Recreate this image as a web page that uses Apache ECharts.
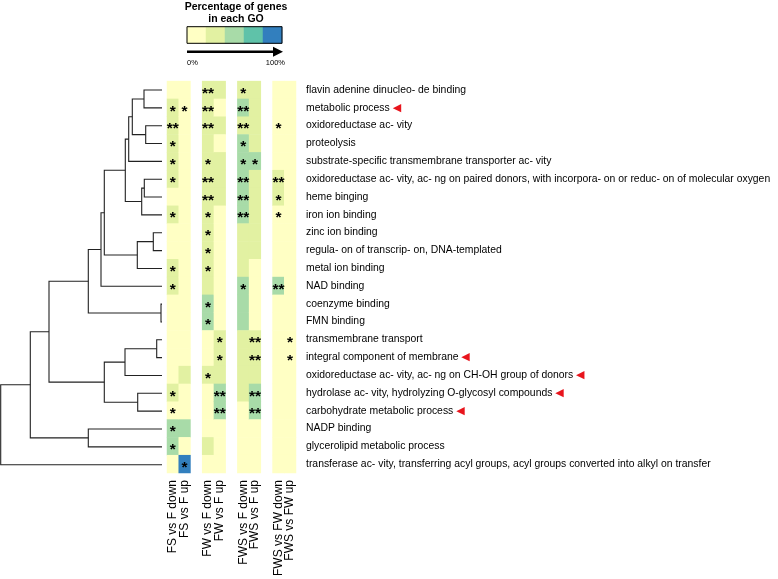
<!DOCTYPE html>
<html>
<head>
<meta charset="utf-8">
<script src="https://cdn.jsdelivr.net/npm/echarts@6/dist/echarts.min.js"></script>
<style>html,body{margin:0;padding:0;background:#fff}#c{width:778px;height:579px}</style>
</head>
<body>
<div id="c"></div>
<script>
// ---------- data ----------
const goTerms = [
  'flavin adenine dinucleo- de binding',
  'metabolic process',
  'oxidoreductase ac- vity',
  'proteolysis',
  'substrate-specific transmembrane transporter ac- vity',
  'oxidoreductase ac- vity, ac- ng on paired donors, with incorpora- on or reduc- on of molecular oxygen',
  'heme binging',
  'iron ion binding',
  'zinc ion binding',
  'regula- on of transcrip- on, DNA-templated',
  'metal ion binding',
  'NAD binding',
  'coenzyme binding',
  'FMN binding',
  'transmembrane transport',
  'integral component of membrane',
  'oxidoreductase ac- vity, ac- ng on CH-OH group of donors',
  'hydrolase ac- vity, hydrolyzing O-glycosyl compounds',
  'carbohydrate metabolic process',
  'NADP binding',
  'glycerolipid metabolic process',
  'transferase ac- vity, transferring acyl groups, acyl groups converted into alkyl on transfer'
];
const flaggedRows = [1, 15, 16, 17, 18];   // rows marked with a red triangle (0-based)

const comparisons = ['FS vs F down', 'FS vs F up', '', 'FW vs F down', 'FW vs F up', '',
                     'FWS vs F down', 'FWS vs F up', '', 'FWS vs FW down', 'FWS vs FW up'];

// percentage class (0..4) per comparison, per GO term
const fsDown   = [0,1,1,1,1,1,0,1,0,0,1,1,0,0,0,0,0,1,0,2,2,0];
const fsUp     = [0,0,0,0,0,0,0,0,0,0,0,0,0,0,0,0,1,0,0,2,0,4];
const fwDown   = [1,1,1,1,1,1,1,1,1,1,1,1,2,2,0,0,1,0,0,0,1,0];
const fwUp     = [1,0,1,0,1,1,1,0,0,0,0,0,0,0,1,1,1,2,2,0,0,0];
const fwsDown  = [1,2,1,2,2,2,2,2,1,1,1,2,2,2,1,1,1,1,0,0,0,0];
const fwsUp    = [1,1,1,1,2,1,1,1,1,1,0,0,0,0,1,1,1,2,2,0,0,0];
const fwsFwDown= [0,0,0,0,0,1,1,0,0,0,0,2,0,0,0,0,0,0,0,0,0,0];
const fwsFwUp  = [0,0,0,0,0,0,0,0,0,0,0,0,0,0,0,0,0,0,0,0,0,0];

// significance marks
const fsDownSig    = ['','*','**','*','*','*','','*','','','*','*','','','','','','*','*','*','*',''];
const fsUpSig      = ['','*','','','','','','','','','','','','','','','','','','','','*'];
const fwDownSig    = ['**','**','**','','*','**','**','*','*','*','*','','*','*','','','*','','','','',''];
const fwUpSig      = ['','','','','','','','','','','','','','','*','*','','**','**','','',''];
const fwsDownSig   = ['*','**','**','*','*','**','**','**','','','','*','','','','','','','','','',''];
const fwsUpSig     = ['','','','','*','','','','','','','','','','**','**','','**','**','','',''];
const fwsFwDownSig = ['','','*','','','**','*','*','','','','**','','','','','','','','','',''];
const fwsFwUpSig   = ['','','','','','','','','','','','','','','*','*','','','','','',''];

const legendClasses = [0,1,2,3,4];
const palette = ['#FFFFC4', '#E2F1A2', '#A8DBA8', '#5FC2A9', '#327FBE'];

// dendrogram merges (hclust style: negative = leaf, positive = earlier merge), height
const merges = [
  [-1,-2,18], [-3,-4,16.3], [1,2,29.7], [3,-5,33.3], [-6,-7,17.7], [5,-8,20.3],
  [4,6,36.7], [-9,-10,8.7], [8,-11,24.7], [7,9,57.7], [10,-12,61], [-13,-14,1],
  [11,12,73.7], [-15,-16,5.3], [14,-17,37], [-18,-19,24.3], [15,16,57.7],
  [13,17,113], [-20,-21,73.7], [18,19,131.7], [20,-22,161.3]
];

// ---------- build ----------
const columns = [
  [0, fsDown, fsDownSig], [1, fsUp, fsUpSig],
  [3, fwDown, fwDownSig], [4, fwUp, fwUpSig],
  [6, fwsDown, fwsDownSig], [7, fwsUp, fwsUpSig],
  [9, fwsFwDown, fwsFwDownSig], [10, fwsFwUp, fwsFwUpSig]
];
const heatData = [];
columns.forEach(([xi, lv, sg]) => {
  lv.forEach((v, r) => {
    heatData.push({ value: [xi, r, v, sg[r]], itemStyle: { color: palette[v] } });
  });
});

const nodeY = [], nodeH = [];
const segs = [];
function pos(id) {
  if (id < 0) return [0, -id - 1];
  return [nodeH[id - 1], nodeY[id - 1]];
}
merges.forEach(([a, b, h]) => {
  const pa = pos(a), pb = pos(b);
  segs.push({ coords: [[pa[0], pa[1]], [h, pa[1]], [h, pb[1]], [pb[0], pb[1]]] });
  nodeH.push(h);
  nodeY.push((pa[1] + pb[1]) / 2);
});

const legendData = legendClasses.map(v => ({ value: [v, 0, v], itemStyle: { color: palette[v] } }));

const TOP = 81.1, H = 392.5;
const chart = echarts.init(document.getElementById('c'), null, { renderer: 'canvas' });
chart.setOption({
  animation: false,
  backgroundColor: '#fff',
  textStyle: { fontFamily: 'Liberation Sans, Arial, sans-serif' },
  grid: [
    { left: 167, top: TOP, width: 129, height: H },
    { left: 0.7, top: TOP, width: 161.3, height: H },
    { left: 187, top: 26.7, width: 95, height: 16.6, show: true, borderColor: '#000', borderWidth: 1, z: 5 }
  ],
  xAxis: [
    { gridIndex: 0, type: 'category', data: comparisons, axisLine: { show: false }, axisTick: { show: false },
      splitLine: { show: false },
      axisLabel: { interval: 0, rotate: 90, fontSize: 12, color: '#000', margin: 7 } },
    { gridIndex: 1, type: 'value', inverse: true, min: 0, max: 161.3, show: false },
    { gridIndex: 2, type: 'category', data: legendClasses, show: false }
  ],
  yAxis: [
    { gridIndex: 0, type: 'category', data: goTerms, inverse: true, position: 'right',
      axisLine: { show: false }, axisTick: { show: false }, splitLine: { show: false },
      axisLabel: { interval: 0, fontSize: 10.4, color: '#000', margin: 10,
        formatter: (v, i) => flaggedRows.includes(i) ? v + ' {t|◀}' : v,
        rich: { t: { color: '#E8141C', fontSize: 11, fontFamily: 'DejaVu Sans' } } } },
    { gridIndex: 1, type: 'value', inverse: true, min: -0.5, max: 21.5, show: false },
    { gridIndex: 2, type: 'category', data: [0], show: false }
  ],
  series: [
    { type: 'heatmap', xAxisIndex: 0, yAxisIndex: 0, data: heatData,
      emphasis: { disabled: true },
      label: { show: true, formatter: p => p.data.value[3], color: '#000', fontSize: 15.5, fontWeight: 'bold',
        fontFamily: 'Liberation Sans', offset: [0, 3.5] } },
    { type: 'lines', coordinateSystem: 'cartesian2d', xAxisIndex: 1, yAxisIndex: 1, polyline: true,
      clip: false, data: segs, lineStyle: { color: '#222', width: 1.1, opacity: 1 }, silent: true },
    { type: 'heatmap', xAxisIndex: 2, yAxisIndex: 2, data: legendData, emphasis: { disabled: true } }
  ],
  graphic: [
    { type: 'text', x: 236, y: 2, z: 10, style: { text: 'Percentage of genes', align: 'center',
        font: 'bold 10.5px Liberation Sans', fill: '#000' } },
    { type: 'text', x: 236, y: 13.5, z: 10, style: { text: 'in each GO', align: 'center',
        font: 'bold 10.5px Liberation Sans', fill: '#000' } },
    { type: 'line', z: 10, shape: { x1: 187, y1: 51.8, x2: 275, y2: 51.8 }, style: { stroke: '#000', lineWidth: 2.6 } },
    { type: 'polygon', z: 10, shape: { points: [[273, 46.8], [283, 51.8], [273, 56.8]] }, style: { fill: '#000' } },
    { type: 'text', x: 187, y: 58.5, z: 10, style: { text: '0%', font: '7.5px Liberation Sans', fill: '#000' } },
    { type: 'text', x: 285, y: 58.5, z: 10, style: { text: '100%', align: 'right', font: '7.5px Liberation Sans', fill: '#000' } }
  ]
});
</script>
</body>
</html>
